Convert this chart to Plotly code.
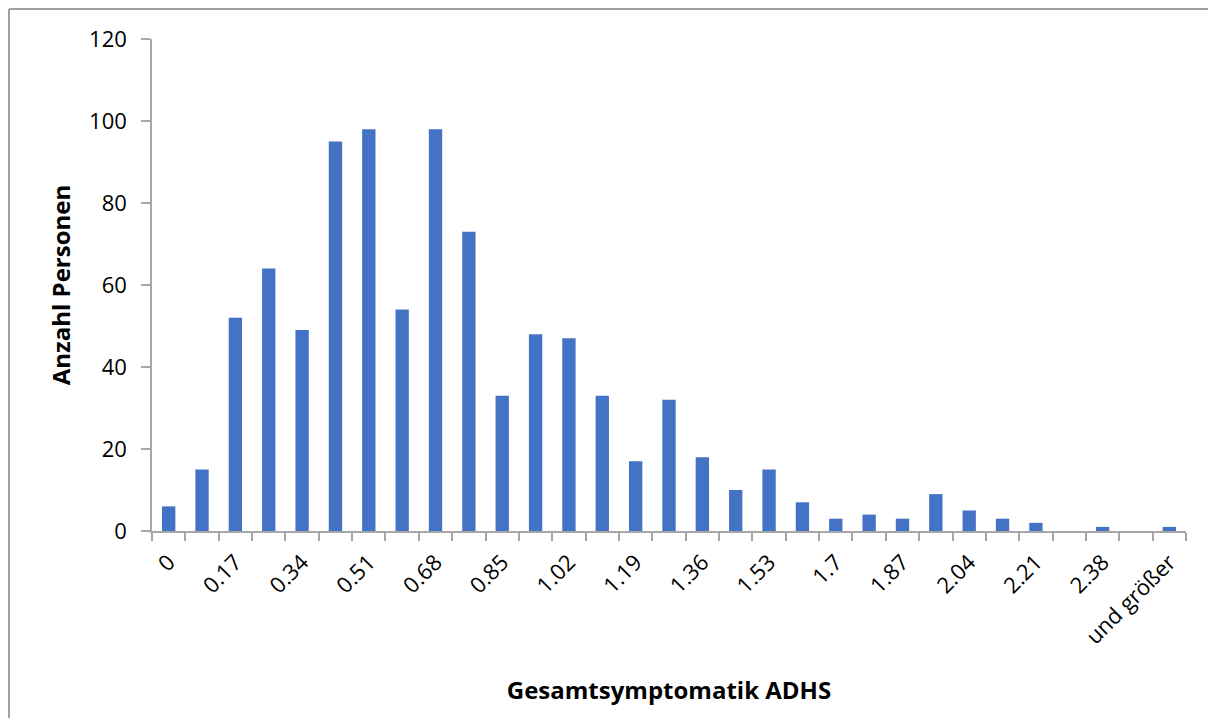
import plotly.graph_objects as go

categories = ["0", "0.085", "0.17", "0.255", "0.34", "0.425", "0.51", "0.595", "0.68", "0.765",
              "0.85", "0.935", "1.02", "1.105", "1.19", "1.275", "1.36", "1.445", "1.53", "1.615",
              "1.7", "1.785", "1.87", "1.955", "2.04", "2.125", "2.21", "2.295", "2.38", "2.465",
              "und größer"]
counts = [6, 15, 52, 64, 49, 95, 98, 54, 98, 73,
          33, 48, 47, 33, 17, 32, 18, 10, 15, 7,
          3, 4, 3, 9, 5, 3, 2, 0, 1, 0,
          1]
tick_labels = [c if i % 2 == 0 else "" for i, c in enumerate(categories)]

FONT = "Open Sans"
AXIS_GREY = "#a6a6a6"
PW, PH = 1034, 492  # plot area size in px

fig = go.Figure()
fig.add_trace(go.Bar(x=categories, y=counts, marker=dict(color="#4472C4", line=dict(width=0)),
                     hoverinfo="x+y"))

fig.update_layout(
    width=1200, height=710,
    margin=dict(l=144, r=22, t=31, b=187),
    paper_bgcolor="white", plot_bgcolor="white",
    bargap=0.6,
    showlegend=False,
    font=dict(family=FONT, color="black"),
    xaxis=dict(
        type="category",
        tickvals=categories, ticktext=tick_labels,
        tickangle=-45,
        tickson="boundaries",
        ticks="outside", ticklen=8, tickcolor=AXIS_GREY, tickwidth=1.5,
        ticklabelstandoff=8,
        showline=True, linecolor=AXIS_GREY, linewidth=1.5,
        showgrid=False, zeroline=False,
        tickfont=dict(size=22, family=FONT),
        title=dict(text="<b>Gesamtsymptomatik ADHS</b>", font=dict(size=24, family=FONT), standoff=33),
    ),
    yaxis=dict(
        range=[0, 120], dtick=20,
        ticks="outside", ticklen=9, tickcolor=AXIS_GREY, tickwidth=1.5,
        ticklabelstandoff=10,
        showline=True, linecolor=AXIS_GREY, linewidth=1.5,
        showgrid=False, zeroline=False,
        tickfont=dict(size=22, family=FONT),
        title=dict(text="<b>Anzahl Personen</b>", font=dict(size=24, family=FONT), standoff=12),
    ),
    shapes=[
        dict(type="line", xref="paper", yref="paper", x0=-143 / PW, x1=1.5, y0=1 + 30 / PH, y1=1 + 30 / PH,
             line=dict(color="#a0a0a0", width=2)),
        dict(type="line", xref="paper", yref="paper", x0=-143 / PW, x1=-143 / PW, y0=-1, y1=1 + 30 / PH,
             line=dict(color="#a0a0a0", width=2)),
    ],
)

fig.write_html("out.html")
